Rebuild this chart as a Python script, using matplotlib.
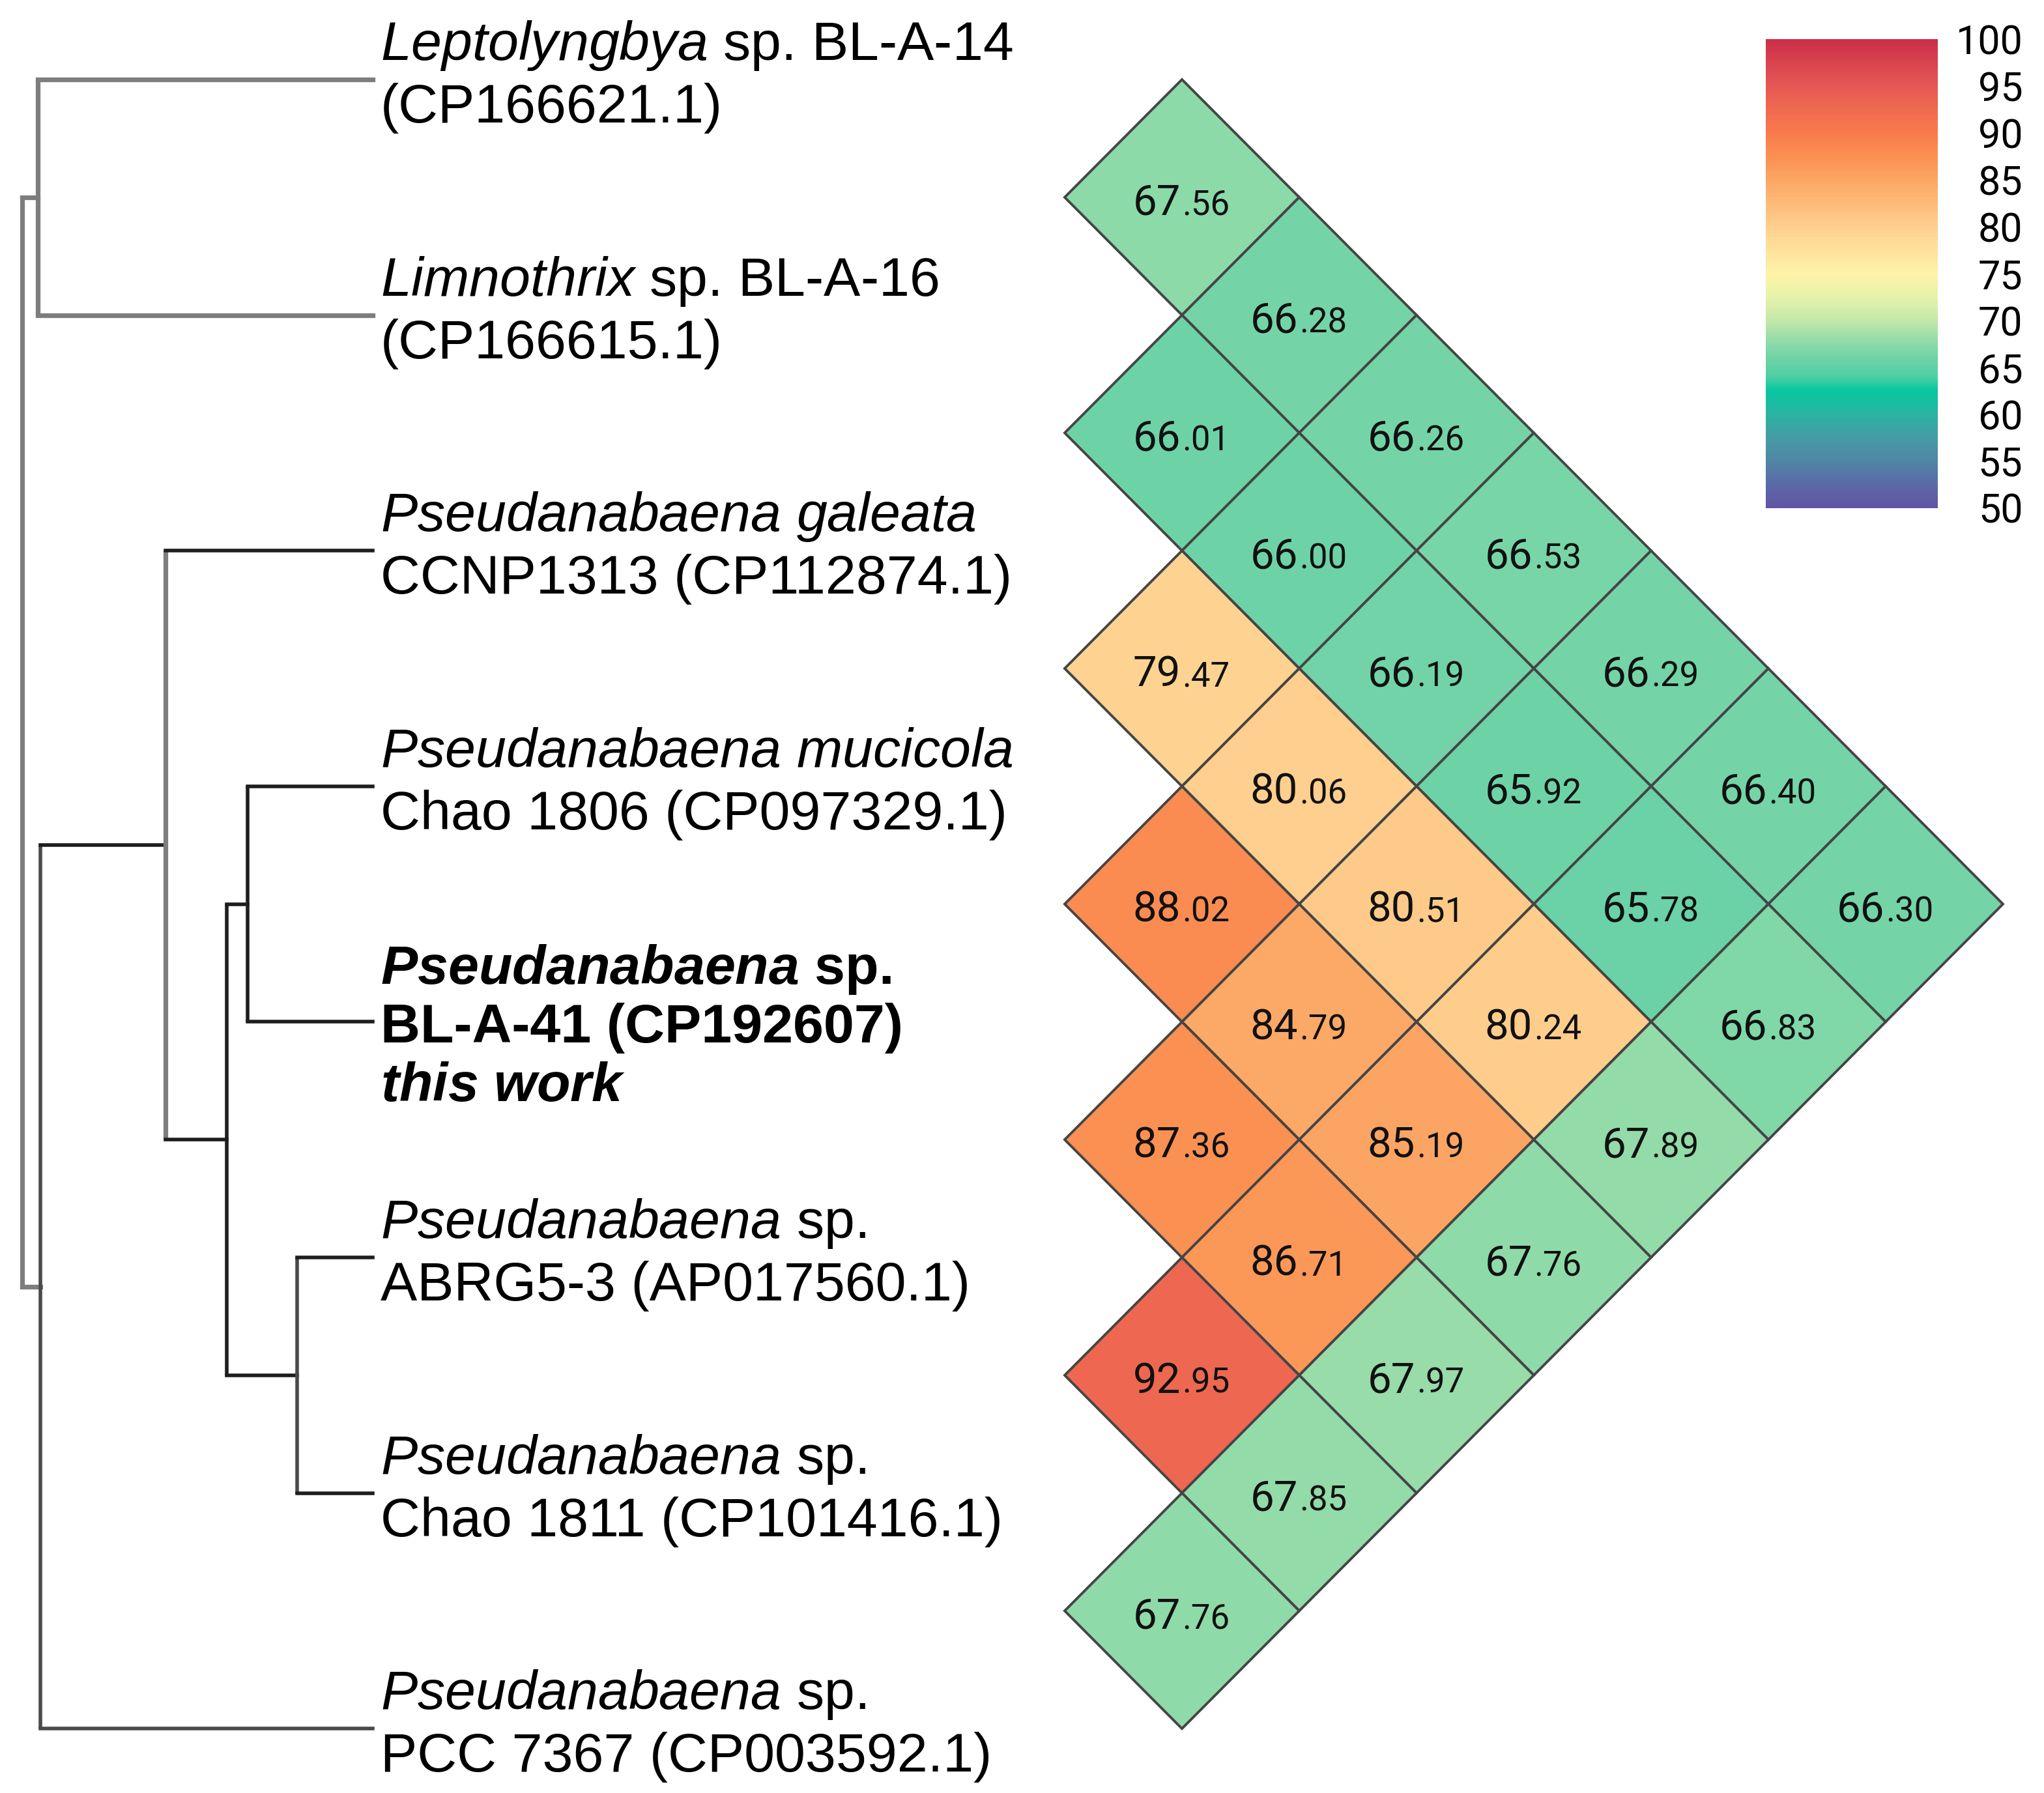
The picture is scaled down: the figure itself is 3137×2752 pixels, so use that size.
import numpy as np
import matplotlib
matplotlib.use("Agg")
import matplotlib.pyplot as plt
from matplotlib.colors import LinearSegmentedColormap, Normalize
from matplotlib.patches import Polygon
from matplotlib.cm import ScalarMappable

# taxa, top to bottom (each entry = lines of the label)
labels = [
    [r"$\mathit{Leptolyngbya}$ sp. BL-A-14", "(CP166621.1)"],
    [r"$\mathit{Limnothrix}$ sp. BL-A-16", "(CP166615.1)"],
    [r"$\mathit{Pseudanabaena\ galeata}$", "CCNP1313 (CP112874.1)"],
    [r"$\mathit{Pseudanabaena\ mucicola}$", "Chao 1806 (CP097329.1)"],
    [r"$\mathbfit{Pseudanabaena}$ sp.", "BL-A-41 (CP192607)", r"$\mathbfit{this\ work}$"],
    [r"$\mathit{Pseudanabaena}$ sp.", "ABRG5-3 (AP017560.1)"],
    [r"$\mathit{Pseudanabaena}$ sp.", "Chao 1811 (CP101416.1)"],
    [r"$\mathit{Pseudanabaena}$ sp.", "PCC 7367 (CP003592.1)"],
]
highlight = 4

# ANI, upper triangle: row i holds taxon i vs taxa i+1 .. 7
ani_upper = [
    [67.56, 66.28, 66.26, 66.53, 66.29, 66.40, 66.30],
    [66.01, 66.00, 66.19, 65.92, 65.78, 66.83],
    [79.47, 80.06, 80.51, 80.24, 67.89],
    [88.02, 84.79, 85.19, 67.76],
    [87.36, 86.71, 67.97],
    [92.95, 67.85],
    [67.76],
]

# tree: internal node -> (depth, children); ints are leaf indices
tree_nodes = {
    "root": (17, ["A", "B"]),
    "A": (29, [0, 1]),
    "B": (31, ["C", 7]),
    "C": (127, [2, "D"]),
    "D": (174, ["E", "F"]),
    "E": (190, [3, 4]),
    "F": (228, [5, 6]),
}
tip_depth = 286

cbar_ticks = list(range(50, 101, 5))

# colour scale anchors
cmap_vals = [50, 52.5, 55, 57.5, 60, 62.5, 64, 66, 68, 70, 72.5, 75, 77.5, 80,
             82.5, 85, 87.5, 90, 92.5, 95, 97.5, 100]
cmap_cols = ["#6254a4", "#5a6aa8", "#4f87a5", "#459ca5", "#2ab4a1", "#05c8a0",
             "#4fcfa3", "#6fd3a7", "#96dca9", "#c3e8aa", "#e6f2aa", "#fef2a8",
             "#fee29c", "#fecf8e", "#fdbb79", "#fca765", "#fa9052", "#f97b4c",
             "#f06a50", "#e65855", "#d9444f", "#cc2f4a"]
norm = Normalize(50, 100)
cmap = LinearSegmentedColormap.from_list(
    "ani", [((v - 50) / 50, c) for v, c in zip(cmap_vals, cmap_cols)])

plt.rcParams["font.family"] = ["Liberation Sans", "DejaVu Sans"]
plt.rcParams["mathtext.fontset"] = "custom"
plt.rcParams["mathtext.rm"] = "Liberation Sans"
plt.rcParams["mathtext.it"] = "Liberation Sans:italic"
plt.rcParams["mathtext.bf"] = "Liberation Sans:bold"
plt.rcParams["mathtext.bfit"] = "Liberation Sans:italic:bold"
num_font = ["Liberation Sans Narrow", "Roboto", "DejaVu Sans"]

W, H = 3137, 2752
fig = plt.figure(figsize=(W / 200, H / 200), dpi=200)
ax = fig.add_axes([0, 0, 1, 1])
ax.axis("off")
# x in half-scale pixels, y in taxon-row units
row_px, row0_px = 180.8, 61
ax.set_xlim(0, W / 2)
ax.set_ylim((H / 2 - row0_px) / row_px, -row0_px / row_px)

# ---- tree
gray, dark, mid = "#7d7d7d", "#1e1e1e", "#4a4a4a"
vert_col = {"root": gray, "A": gray, "B": mid, "C": gray, "D": dark, "E": dark, "F": mid}
edge_col = {"A": gray, "B": gray, 0: gray, 1: gray, "C": dark, 7: mid,
            2: dark, "D": dark, "E": dark, "F": dark}


def node_y(n):
    if isinstance(n, int):
        return n
    ys = [node_y(c) for c in tree_nodes[n][1]]
    return (ys[0] + ys[-1]) / 2


def draw(n):
    x, kids = tree_nodes[n]
    ys = [node_y(c) for c in kids]
    vc = vert_col[n]
    ax.plot([x, x], [ys[0], ys[-1]], color=vc, lw=2.6 if vc == gray else 2.0,
            solid_capstyle="butt", zorder=2)
    for c, yc in zip(kids, ys):
        xc = tip_depth if isinstance(c, int) else tree_nodes[c][0]
        ec = edge_col.get(c, dark)
        ax.plot([x, xc], [yc, yc], color=ec, lw=2.6 if ec == gray else 2.0,
                solid_capstyle="projecting", zorder=2)
        if not isinstance(c, int):
            draw(c)


draw("root")

# ---- labels
label_x = 292
for i, lines in enumerate(labels):
    if len(lines) == 2:
        offs = [-15, 33]
    else:
        offs = [-29, 16, 61]
    for line, o in zip(lines, offs):
        ax.text(label_x, i + o / row_px, line, fontsize=30.4, ha="left", va="baseline",
                fontweight="bold" if i == highlight else "normal", color="black")

# ---- diamond heatmap
x_left, hx = 817, 90
for i, row in enumerate(ani_upper):
    for k, v in enumerate(row):
        j = i + 1 + k
        cx = x_left + (j - i) * hx
        cy = (i + j) / 2
        poly = Polygon([(cx - hx, cy), (cx, cy - 0.5), (cx + hx, cy), (cx, cy + 0.5)],
                       closed=True, facecolor=cmap(norm(v)), edgecolor="#454545",
                       lw=1.4, zorder=3)
        ax.add_patch(poly)
        whole, frac = f"{v:.2f}".split(".")
        ax.text(cx - 1, cy + 0.075, whole, family=num_font, fontsize=23.5,
                ha="right", va="baseline", color="#111111", zorder=4)
        ax.text(cx, cy + 0.075, "." + frac, family=num_font, fontsize=19,
                ha="left", va="baseline", color="#111111", zorder=4)

# ---- colour bar
cax = fig.add_axes([1355 / (W / 2), 1 - 390 / (H / 2), 132 / (W / 2), 360 / (H / 2)])
cb = fig.colorbar(ScalarMappable(norm=norm, cmap=cmap), cax=cax, ticks=cbar_ticks)
cb.outline.set_visible(False)
cax.tick_params(length=0, pad=47, labelsize=22)
for t in cax.get_yticklabels():
    t.set_ha("right")
    t.set_family(num_font)

fig.savefig("out.png", dpi=200, facecolor="white")
